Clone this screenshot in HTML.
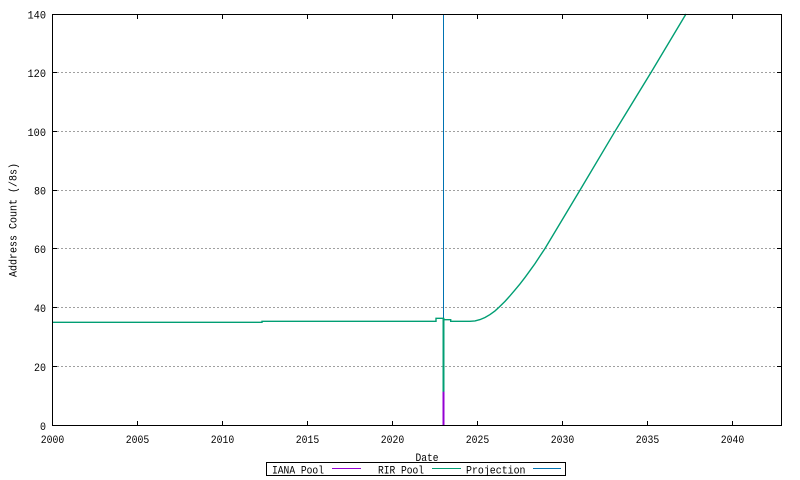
<!DOCTYPE html>
<html>
<head>
<meta charset="utf-8">
<style>
  html, body { margin: 0; padding: 0; background: #ffffff; }
  svg { display: block; }
  text { font-family: "Liberation Mono", "DejaVu Sans Mono", monospace; font-size: 11px; fill: #000; }
</style>
</head>
<body>
<svg width="800" height="480" viewBox="0 0 800 480" xmlns="http://www.w3.org/2000/svg">
  <rect x="0" y="0" width="800" height="480" fill="#ffffff"/>

  <!-- grid lines -->
  <g stroke="#a0a0a0" stroke-width="1" stroke-dasharray="2,2" shape-rendering="crispEdges">
    <line x1="57" y1="366.5" x2="777" y2="366.5"/>
    <line x1="57" y1="307.5" x2="777" y2="307.5"/>
    <line x1="57" y1="248.5" x2="777" y2="248.5"/>
    <line x1="57" y1="190.5" x2="777" y2="190.5"/>
    <line x1="57" y1="131.5" x2="777" y2="131.5"/>
    <line x1="57" y1="72.5" x2="777" y2="72.5"/>
  </g>

  <!-- ticks -->
  <g stroke="#000" stroke-width="1" shape-rendering="crispEdges">
    <!-- y ticks left -->
    <line x1="52" y1="425.5" x2="57" y2="425.5"/>
    <line x1="52" y1="366.5" x2="57" y2="366.5"/>
    <line x1="52" y1="307.5" x2="57" y2="307.5"/>
    <line x1="52" y1="248.5" x2="57" y2="248.5"/>
    <line x1="52" y1="190.5" x2="57" y2="190.5"/>
    <line x1="52" y1="131.5" x2="57" y2="131.5"/>
    <line x1="52" y1="72.5" x2="57" y2="72.5"/>
    <line x1="52" y1="14.5" x2="57" y2="14.5"/>
    <!-- y ticks right -->
    <line x1="777" y1="366.5" x2="782" y2="366.5"/>
    <line x1="777" y1="307.5" x2="782" y2="307.5"/>
    <line x1="777" y1="248.5" x2="782" y2="248.5"/>
    <line x1="777" y1="190.5" x2="782" y2="190.5"/>
    <line x1="777" y1="131.5" x2="782" y2="131.5"/>
    <line x1="777" y1="72.5" x2="782" y2="72.5"/>
    <!-- x ticks bottom -->
    <line x1="137.5" y1="421" x2="137.5" y2="425"/>
    <line x1="222.5" y1="421" x2="222.5" y2="425"/>
    <line x1="307.5" y1="421" x2="307.5" y2="425"/>
    <line x1="392.5" y1="421" x2="392.5" y2="425"/>
    <line x1="477.5" y1="421" x2="477.5" y2="425"/>
    <line x1="562.5" y1="421" x2="562.5" y2="425"/>
    <line x1="647.5" y1="421" x2="647.5" y2="425"/>
    <line x1="732.5" y1="421" x2="732.5" y2="425"/>
    <!-- x ticks top -->
    <line x1="137.5" y1="15" x2="137.5" y2="19"/>
    <line x1="222.5" y1="15" x2="222.5" y2="19"/>
    <line x1="307.5" y1="15" x2="307.5" y2="19"/>
    <line x1="392.5" y1="15" x2="392.5" y2="19"/>
    <line x1="477.5" y1="15" x2="477.5" y2="19"/>
    <line x1="562.5" y1="15" x2="562.5" y2="19"/>
    <line x1="647.5" y1="15" x2="647.5" y2="19"/>
    <line x1="732.5" y1="15" x2="732.5" y2="19"/>
  </g>

  <!-- Projection vertical line (blue) -->
  <line x1="443.5" y1="14" x2="443.5" y2="425" stroke="#0072b2" stroke-width="1"/>

  <!-- RIR Pool (green) -->
  <path d="M52.5,322.3 H262 V321.3 H436 V318.3 H443.5 V391.7 M443.5,319.7 H450.7 V321.3 H470
           L475,320.9 L480,319.6 L485,317.5 L490,314.6 L495,310.9 L499,307.3
           L505,301.4 L510,295.8 L515,289.9 L520,283.9 L525,277.4 L530,270.6
           L535,263.6 L540,256.0 L545,248.5 L580,190.1 L615,131.3 L651,72.5 L686,14"
        fill="none" stroke="#009e73" stroke-width="1.4" stroke-linejoin="miter"/>
  <line x1="443.5" y1="318" x2="443.5" y2="392" stroke="#009e73" stroke-width="2"/>

  <!-- IANA Pool (purple) -->
  <line x1="443.5" y1="391.7" x2="443.5" y2="425" stroke="#9400d3" stroke-width="2"/>

  <!-- border -->
  <rect x="52.5" y="14.5" width="729" height="411" fill="none" stroke="#000" stroke-width="1" shape-rendering="crispEdges"/>

  <!-- y tick labels -->
  <g text-anchor="end">
    <text x="46" y="430" textLength="6" lengthAdjust="spacingAndGlyphs">0</text>
    <text x="46" y="370.8" textLength="12" lengthAdjust="spacingAndGlyphs">20</text>
    <text x="46" y="312" textLength="12" lengthAdjust="spacingAndGlyphs">40</text>
    <text x="46" y="253.2" textLength="12" lengthAdjust="spacingAndGlyphs">60</text>
    <text x="46" y="194.5" textLength="12" lengthAdjust="spacingAndGlyphs">80</text>
    <text x="46" y="135.8" textLength="18.5" lengthAdjust="spacingAndGlyphs">100</text>
    <text x="46" y="77" textLength="18.5" lengthAdjust="spacingAndGlyphs">120</text>
    <text x="46" y="18.5" textLength="18.5" lengthAdjust="spacingAndGlyphs">140</text>
  </g>

  <!-- x tick labels -->
  <g text-anchor="middle">
    <text x="52.5" y="443" textLength="23.5" lengthAdjust="spacingAndGlyphs">2000</text>
    <text x="137.5" y="443" textLength="23.5" lengthAdjust="spacingAndGlyphs">2005</text>
    <text x="222.5" y="443" textLength="23.5" lengthAdjust="spacingAndGlyphs">2010</text>
    <text x="307.5" y="443" textLength="23.5" lengthAdjust="spacingAndGlyphs">2015</text>
    <text x="392.5" y="443" textLength="23.5" lengthAdjust="spacingAndGlyphs">2020</text>
    <text x="477.5" y="443" textLength="23.5" lengthAdjust="spacingAndGlyphs">2025</text>
    <text x="562.5" y="443" textLength="23.5" lengthAdjust="spacingAndGlyphs">2030</text>
    <text x="647.5" y="443" textLength="23.5" lengthAdjust="spacingAndGlyphs">2035</text>
    <text x="732.5" y="443" textLength="23.5" lengthAdjust="spacingAndGlyphs">2040</text>
  </g>

  <!-- axis titles -->
  <text x="165.5" y="461" textLength="23" lengthAdjust="spacingAndGlyphs" transform="translate(250,0)" text-anchor="start">Date</text>
  <text transform="translate(16.5,220) rotate(-90)" text-anchor="middle" textLength="114" lengthAdjust="spacingAndGlyphs">Address Count (/8s)</text>

  <!-- legend -->
  <rect x="266.5" y="462.5" width="299" height="13" fill="none" stroke="#000" stroke-width="1" shape-rendering="crispEdges"/>
  <text x="272" y="473.5" textLength="52" lengthAdjust="spacingAndGlyphs">IANA Pool</text>
  <line x1="332" y1="468.5" x2="361" y2="468.5" stroke="#9400d3" stroke-width="1"/>
  <text x="378" y="473.5" textLength="46" lengthAdjust="spacingAndGlyphs">RIR Pool</text>
  <line x1="432" y1="468.5" x2="461" y2="468.5" stroke="#009e73" stroke-width="1"/>
  <text x="466" y="473.5" textLength="59.5" lengthAdjust="spacingAndGlyphs">Projection</text>
  <line x1="533" y1="468.5" x2="561" y2="468.5" stroke="#0072b2" stroke-width="1"/>
</svg>
</body>
</html>
